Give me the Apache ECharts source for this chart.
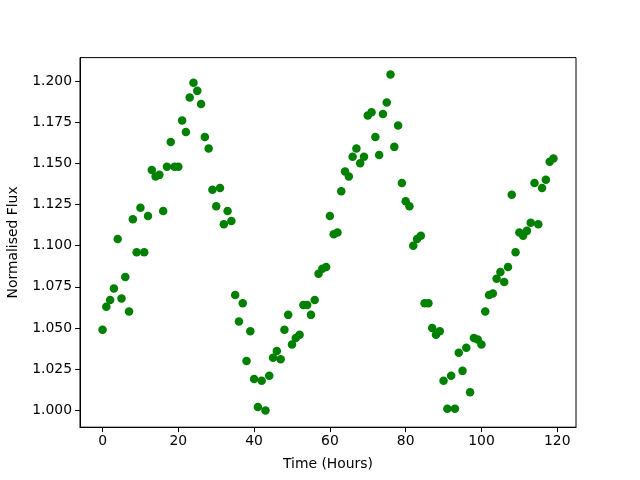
<!DOCTYPE html>
<html>
<head>
<meta charset="utf-8">
<script src="https://cdn.jsdelivr.net/npm/echarts@6/dist/echarts.min.js"></script>
<style>html,body{margin:0;padding:0;background:#fff}#c{width:640px;height:480px}</style>
</head>
<body>
<div id="c"></div>
<script>
const hours = [];
for (let i = 0; i < 120; i++) hours.push(i);
const flux = [
1.049,1.063,1.067,1.074,1.104,1.068,1.081,1.060,1.116,1.096,
1.123,1.096,1.118,1.146,1.142,1.143,1.121,1.148,1.163,1.148,
1.148,1.176,1.169,1.190,1.199,1.194,1.186,1.166,1.159,1.134,
1.124,1.135,1.113,1.121,1.115,1.070,1.054,1.065,1.030,1.048,
1.019,1.002,1.018,1.000,1.021,1.032,1.036,1.031,1.049,1.058,
1.040,1.044,1.046,1.064,1.064,1.058,1.067,1.083,1.086,1.087,
1.118,1.107,1.108,1.133,1.145,1.142,1.154,1.159,1.150,1.154,
1.179,1.181,1.166,1.155,1.180,1.187,1.204,1.160,1.173,1.138,
1.127,1.124,1.100,1.104,1.106,1.065,1.065,1.050,1.046,1.048,
1.018,1.001,1.021,1.001,1.035,1.024,1.038,1.011,1.044,1.043,
1.040,1.060,1.070,1.071,1.080,1.084,1.078,1.087,1.131,1.096,
1.108,1.106,1.109,1.114,1.138,1.113,1.135,1.140,1.151,1.153
];
const xTicks = [0,20,40,60,80,100,120];
const yTicks = [1.000,1.025,1.050,1.075,1.100,1.125,1.150,1.175,1.200];

const pts = hours.map((h,i)=>[h, flux[i]]);
const xmin = -5.95, xmax = 124.95;
const ymin = 0.9898, ymax = 1.2142;
const font = 'DejaVu Sans';
const chart = echarts.init(document.getElementById('c'), null, {renderer:'canvas'});
chart.setOption({
  animation:false,
  backgroundColor:'#fff',
  grid:{left:80, right:64, top:57.6, bottom:52.8, show:true, borderColor:'#000', borderWidth:1, containLabel:false, outerBoundsMode:'none'},
  xAxis:{
    type:'value', min:xmin, max:xmax,
    name:'Time (Hours)', nameLocation:'middle', nameGap:30,
    nameTextStyle:{fontFamily:font, fontSize:13.9, color:'#000'},
    axisLine:{show:true, onZero:false, lineStyle:{color:'#000', width:1}},
    axisTick:{show:true, length:4.9, customValues:xTicks, lineStyle:{color:'#000'}},
    axisLabel:{customValues:xTicks, fontFamily:font, fontSize:13.9, color:'#000', margin:7},
    splitLine:{show:false}
  },
  yAxis:{
    type:'value', min:ymin, max:ymax,
    name:'Normalised Flux', nameLocation:'middle', nameGap:60, nameRotate:90,
    nameTextStyle:{fontFamily:font, fontSize:13.9, color:'#000'},
    axisLine:{show:true, onZero:false, lineStyle:{color:'#000', width:1}},
    axisTick:{show:true, length:4.9, customValues:yTicks, lineStyle:{color:'#000'}},
    axisLabel:{customValues:yTicks, fontFamily:font, fontSize:13.9, color:'#000', margin:8,
      formatter:v=>v.toFixed(3)},
    splitLine:{show:false}
  },
  series:[{
    type:'scatter', data:pts, symbol:'circle', symbolSize:8.5,
    itemStyle:{color:'#008000', opacity:1}
  }]
});
</script>
</body>
</html>
